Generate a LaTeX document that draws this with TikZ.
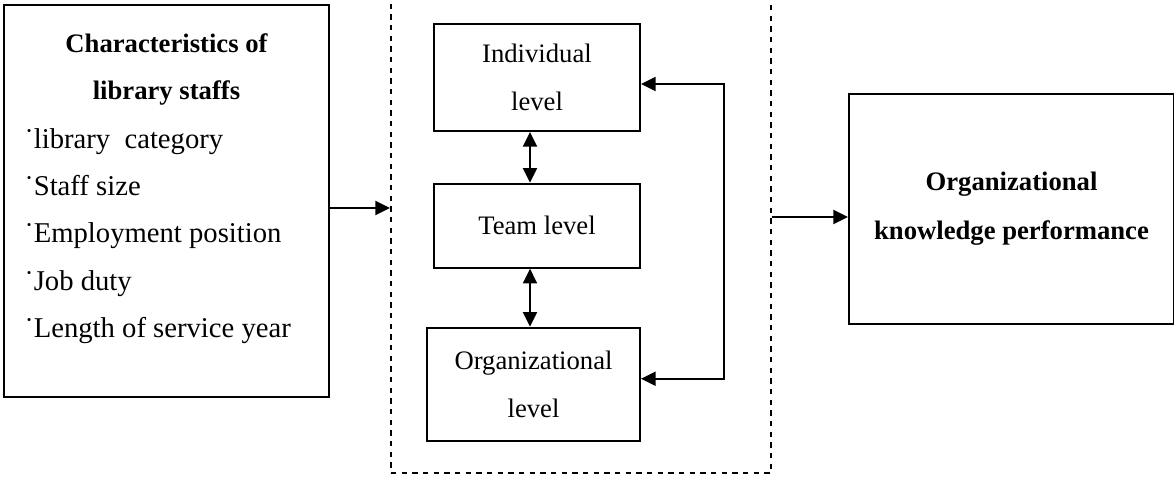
\documentclass[tikz,border=0pt]{standalone}
\usepackage{fontspec}
\setmainfont{Liberation Serif}
\usetikzlibrary{arrows.meta,calc,positioning}

\begin{document}
\begin{tikzpicture}[x=0.75pt, y=-0.75pt, >={Triangle[length=11pt,width=10.5pt]}, node distance=38pt,
    box/.style={draw, line width=1.5pt, inner sep=0pt, align=center, font=\fontsize{20}{36}\selectfont},
    link/.style={line width=1.5pt}]
  \useasboundingbox (0,0) rectangle (1174,478);
  % staff characteristics
  \node[box, anchor=north west, minimum width=243.75pt, minimum height=294pt] (staff) at (3,4) {};
  \node[anchor=north, inner sep=0pt, align=center, font=\fontsize{20}{35.25}\selectfont\bfseries] (stafftitle) at ([yshift=-22pt]staff.north) {Characteristics of\\ library staffs};
  \node[anchor=north west, inner sep=0pt, align=left, font=\fontsize{21.5}{35.5}\selectfont] (stafflist) at (24,128) {
    ˙library\ \ category\\
    ˙Staff size\\
    ˙Employment position\\
    ˙Job duty\\
    ˙Length of service year
  };
  % knowledge levels
  \node[draw, dashed, dash pattern=on 4pt off 4pt, line width=1.3pt, inner sep=0pt, anchor=south west, minimum width=285pt, minimum height=363pt] (mgmt) at (390,474) {};
  \node[box, anchor=north west, minimum width=154.5pt, minimum height=80.25pt] (indiv) at (433,23) {Individual\\ level};
  \node[box, below=of indiv, minimum width=154.5pt, minimum height=63pt] (team) {Team level};
  \node[box, below=43.5pt of team.south east, anchor=north east, minimum width=159.75pt, minimum height=84.75pt] (org) {Organizational\\ level};
  % performance
  \node[box, anchor=north west, minimum width=243.75pt, minimum height=172.5pt, font=\fontsize{20}{36.75}\selectfont\bfseries] (perf) at (848,93) {Organizational\\ knowledge performance};
  \draw[link, ->] ([yshift=-5.25pt]staff.east) -- ([yshift=-5.25pt]staff.east -| mgmt.west);
  \draw[link, ->] ([yshift=-6pt]mgmt.east |- perf.west) -- ([yshift=-6pt]perf.west);
  \draw[link, <->] ([xshift=-5.25pt]indiv.south) -- ([xshift=-5.25pt]indiv.south |- team.north);
  \draw[link, <->] ([xshift=-5.25pt]team.south) -- ([xshift=-5.25pt]team.south |- org.north);
  \draw[link, <->] ([yshift=-4.9pt]indiv.east) -- ++(62pt,0) |- ([yshift=4.1pt]org.east);
\end{tikzpicture}
\end{document}
